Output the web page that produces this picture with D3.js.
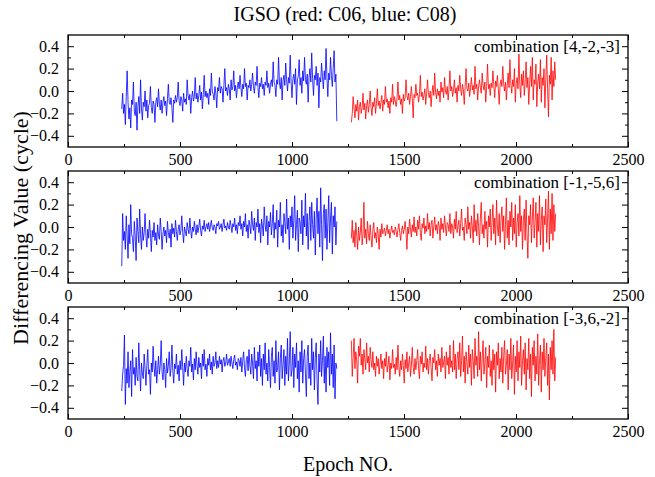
<!DOCTYPE html>
<html>
<head>
<meta charset="utf-8">
<script src="https://cdn.jsdelivr.net/npm/d3@7"></script>
<style>
body{margin:0;background:#fff;}
svg{display:block;}
text{font-family:"Liberation Serif","Times New Roman",serif;fill:#000;}
</style>
</head>
<body>
<svg id="chart" width="655" height="477"></svg>
<script>
const title = "IGSO (red: C06, blue: C08)";
const xLabel = "Epoch NO.";
const yLabel = "Differencing Value (cycle)";
const combinations = ["combination [4,-2,-3]", "combination [-1,-5,6]", "combination [-3,6,-2]"];
const xTicks = [0, 500, 1000, 1500, 2000, 2500];
const yTicks = [-0.4, -0.2, 0.0, 0.2, 0.4];
const xDomain = [0, 2500];
const yDomain = [-0.5, 0.5];
// first epoch of each satellite series and sampling step (epochs)
const blueStart = 240, redStart = 1265, epochStep = 4;

const blue1 = [-.16,-.02,-.2,-.12,-.3,-.05,.18,-.1,-.25,-.15,-.33,-.08,
-.12,.08,-.18,-.22,-.1,-.35,-.14,-.05,-.2,.1,-.16,-.26,
-.1,-.14,.0,-.18,-.08,-.24,-.13,-.11,.04,-.15,-.2,-.09,
-.12,-.28,-.1,-.06,-.14,.02,-.12,-.17,-.08,-.2,-.1,-.05,
-.13,-.09,-.22,-.07,.06,-.1,-.12,-.06,-.15,-.28,-.08,-.11,
-.04,-.1,-.06,.08,-.09,-.13,-.05,-.08,-.18,-.02,-.1,-.07,
-.12,.1,-.04,-.08,-.03,-.2,-.06,.0,-.09,-.05,.12,-.07,
-.02,-.1,-.04,.05,-.08,-.01,-.16,-.03,.14,-.05,.0,-.06,
-.02,-.12,.02,-.04,.16,.0,-.03,-.08,.04,-.02,-.15,.03,
.0,.12,-.02,.04,.02,-.1,.05,.2,.0,.03,-.04,.06,
.02,-.08,.1,.01,.04,.18,.0,.05,-.06,.03,.08,.02,
.14,.03,-.05,.06,.02,.2,.04,.07,-.08,.05,.03,.1,
.0,.06,.16,.04,-.02,.08,.05,.22,.03,-.06,.07,.04,
.12,.02,.06,-.04,.08,.05,.18,.03,.07,-.02,.06,.1,
.04,.26,.08,.05,-.05,.1,.06,.3,.07,.02,.12,-.08,
.09,.14,.05,.25,.1,.0,.12,.07,.32,.08,-.06,.11,
.15,.06,.2,-.12,.1,.13,.28,.05,.12,-.02,.18,.09,
.3,.1,.06,.15,-.1,.12,.2,.08,.34,.11,-.04,.14,
.1,.22,.05,.16,-.15,.12,.08,.25,.13,.02,.18,.1,
.38,.12,-.05,.16,.1,.3,.14,.04,.2,.36,.08,.15,
-.27];

const red1 = [-.28,-.2,-.05,-.16,-.24,-.12,-.18,-.08,-.26,-.14,-.1,-.2,
-.15,-.02,-.17,-.11,-.25,-.13,-.08,-.19,-.12,.0,-.15,-.22,
-.1,-.14,-.06,-.2,-.11,.02,-.13,-.09,-.16,-.1,-.04,-.18,
-.08,-.12,.04,-.1,-.07,-.15,-.09,-.2,-.06,-.1,.06,-.12,
-.05,-.09,-.14,-.06,.08,-.08,-.04,-.12,-.07,-.2,-.03,-.09,
-.06,.1,-.04,-.08,-.02,-.12,-.05,.04,-.07,-.24,-.03,-.06,
.06,-.04,-.02,-.1,-.03,.14,-.05,-.01,-.08,-.04,.02,-.12,
-.02,.1,-.03,-.06,.0,-.14,-.02,.05,-.04,.16,-.01,-.07,
.02,-.04,.0,-.1,.08,-.01,.03,-.06,.12,.0,-.03,.04,
-.08,.02,.18,.0,.04,-.05,.01,.1,-.02,.03,-.1,.05,
.0,.14,.02,-.04,.06,.01,-.12,.04,.2,.02,.0,.07,
-.05,.03,.12,.01,.05,-.03,.22,.02,.06,-.08,.04,.1,
.03,-.02,.16,.05,.01,.08,-.1,.04,.24,.02,.06,-.04,
.07,.03,.18,.05,-.06,.09,.04,.14,.02,-.12,.06,.1,
.04,.22,.06,.0,.08,-.08,.05,.16,.03,.28,.07,-.02,
.1,.04,.2,-.1,.07,.12,.02,.33,.06,-.06,.15,.05,
.18,-.04,.08,.26,.03,.12,-.12,.07,.22,.04,.3,-.08,
.1,.06,.24,-.14,.08,.15,.02,.28,-.1,.12,.05,.2,
-.15,.1,.32,.02,-.23,.14,.06,.3,-.08,.18,.04,.26,
.1];

const blue2 = [-.35,.12,-.12,-.04,-.2,.1,-.08,-.28,.02,-.15,.2,-.06,
-.1,-.22,.05,-.08,-.3,.08,-.04,-.14,.16,-.07,-.2,.0,
-.12,-.05,.12,-.08,-.18,-.02,-.1,.06,-.06,-.22,-.03,-.09,
.04,-.12,-.05,-.16,.02,-.07,-.11,.08,-.04,-.2,-.06,.0,
-.08,-.03,-.14,.05,-.05,-.1,-.02,-.18,.03,-.06,-.01,-.09,
.06,-.04,-.12,-.02,.02,-.07,-.03,.1,-.05,-.14,.0,-.04,
-.08,.04,-.02,-.06,.08,-.03,-.1,.0,-.04,.05,-.02,-.07,
.02,-.05,.0,.07,-.03,-.08,.01,-.02,.06,-.04,.0,.03,
-.02,.04,-.04,.01,.06,-.01,-.03,.02,.0,-.06,.03,.01,
.05,-.02,.0,.03,-.04,.02,.07,-.01,.01,-.03,.04,.0,
-.02,.06,.01,-.05,.03,.0,.08,-.03,.02,-.06,.04,.01,
.1,-.02,.03,-.08,.05,.0,.12,-.04,.02,-.1,.06,.01,
-.06,.14,.02,-.03,.08,-.12,.04,.0,.16,-.05,.03,-.14,
.07,.01,-.08,.18,.02,-.04,.1,-.16,.05,.0,.13,-.07,
.03,.2,-.1,.04,-.02,.15,-.18,.06,.0,.22,-.08,.02,
-.14,.12,.04,-.06,.25,-.02,.08,-.2,.1,.0,.18,-.1,
.06,.28,-.12,.02,.15,-.22,.08,.04,-.06,.24,-.16,.1,
.0,.3,-.08,.12,-.2,.05,.18,-.12,.22,.02,-.1,.14,
-.25,.08,.26,-.06,.14,-.18,.35,.02,-.3,.12,.2,-.1,
.16,-.2,.04,.28,-.14,.08,.22,-.24,.1,.0,.18,-.16,
.05];

const red2 = [-.1,.06,-.14,-.03,-.18,.04,-.08,-.2,.0,-.12,-.05,.08,
-.16,-.07,.22,-.1,-.02,-.15,.05,-.06,-.12,.02,-.09,-.18,
-.03,.04,-.1,-.05,-.14,.0,-.07,-.2,-.02,-.09,.03,-.06,
-.04,-.01,-.08,-.03,.02,-.06,-.02,-.1,-.04,.01,-.05,-.03,
-.07,.0,-.04,-.09,-.02,.03,-.05,-.12,-.03,.01,-.06,-.02,
.05,-.04,-.2,.0,-.06,.07,-.02,-.09,.02,-.04,.09,-.05,
.0,-.08,.06,-.02,.1,-.05,-.12,.03,-.01,.08,-.06,.01,
-.04,.12,-.02,.04,-.08,.02,.06,-.1,.0,.09,-.03,.02,
-.06,.05,.01,-.12,.08,-.02,.03,-.05,.1,.0,-.08,.04,
.02,-.04,.12,-.06,.03,.0,-.1,.07,-.02,.14,-.05,.01,
.06,-.08,.03,.16,-.03,.0,-.12,.08,.02,-.06,.18,-.02,
.04,-.1,.1,.0,-.14,.2,-.04,.06,-.08,.12,.01,-.16,
.08,.22,-.06,.02,-.1,.14,-.02,.05,-.18,.1,.0,.16,
-.12,.04,.2,-.06,.08,-.16,.24,.0,-.08,.12,-.14,.06,
.18,-.04,.1,-.2,.02,.26,-.1,.06,-.16,.14,.0,.22,
-.12,.08,-.06,.2,-.18,.04,.12,-.08,.28,-.04,.1,-.2,
.06,.16,-.12,.24,-.06,-.28,.1,.02,.2,-.14,.08,.26,
-.1,.04,.22,-.18,.12,-.04,.28,-.16,.06,.18,-.22,.1,
.02,.25,-.14,.08,.32,-.2,.16,-.06,.3,-.12,.2,-.04,
.12];

const blue3 = [-.25,-.1,-.02,.25,-.37,-.05,-.18,.1,-.22,-.08,.02,-.3,
.12,-.1,-.04,-.2,.05,-.12,-.16,.18,-.06,-.25,.0,-.09,
-.14,.08,-.05,-.2,-.02,.12,-.1,-.06,-.28,.0,-.08,.15,
-.04,-.12,.02,-.18,-.06,.06,-.1,-.02,.2,-.08,-.15,.0,
-.06,-.22,.04,-.09,-.02,.1,-.12,-.05,.16,-.07,-.18,-.01,
-.05,.08,-.1,-.02,-.16,.02,-.06,.12,-.04,-.2,.0,-.08,
.06,-.05,-.12,.02,-.03,.14,-.08,-.01,-.15,.04,-.06,.1,
-.02,-.1,.05,-.04,.0,-.14,.08,-.03,.12,-.06,-.01,-.12,
.04,-.02,.08,-.06,.01,-.1,.06,-.03,.0,.1,-.05,.02,
-.04,.06,-.01,.03,-.08,.02,.05,-.03,.0,.08,-.02,.01,
.04,-.03,.06,.0,-.05,.03,.07,-.02,.01,-.06,.04,.02,
-.03,.05,-.08,.02,.1,-.04,-.12,.03,.06,-.07,.12,-.02,
-.1,.08,.0,-.14,.14,-.05,.02,-.16,.1,-.03,.16,-.12,
.04,-.2,.08,-.06,.18,-.1,.0,-.16,.12,-.04,-.22,.06,
.14,-.12,.02,-.18,.2,-.08,-.04,.1,-.24,.04,.16,-.14,
-.02,.12,-.2,.06,-.1,.22,-.16,.0,.28,-.12,-.06,.14,
-.22,.08,-.04,.18,-.14,.02,-.26,.1,-.08,.2,-.18,.04,
.12,-.1,-.3,.06,.16,-.14,.0,-.2,.22,-.06,.1,-.24,
.04,.18,-.16,-.37,.08,-.08,.2,-.12,.02,.24,-.18,.06,
-.26,.14,-.04,.1,-.2,.27,-.1,.08,-.22,.16,-.32,.0,
-.05];

const red3 = [.2,-.12,.05,.22,-.05,.1,.02,-.18,.15,.06,.22,-.02,
.08,-.1,.12,.03,-.06,.18,.0,.06,-.08,.14,.02,-.04,
.1,-.06,.0,-.12,.06,-.03,.04,-.1,-.01,.08,-.05,.02,
-.14,.04,-.03,.1,-.08,-.02,.06,-.15,.0,-.05,.12,-.04,
-.01,-.1,.05,-.06,.16,-.03,-.12,.02,-.06,.08,-.02,-.18,
.03,-.05,.1,-.08,.0,.06,-.12,-.02,.14,-.04,-.1,.04,
-.06,.02,.12,-.05,-.14,.06,-.01,.1,-.08,.0,-.04,.15,
-.06,.04,-.1,.02,.08,-.04,-.16,.05,.0,.12,-.06,.02,
-.12,.08,-.02,.04,-.08,.14,-.04,.0,.06,-.14,.1,-.02,
.05,-.1,.16,-.04,.02,-.08,.2,-.06,.08,-.14,.04,.1,
-.06,.18,-.12,.02,.24,-.08,.06,-.18,.1,.0,-.1,.16,
-.04,.08,-.2,.12,.02,-.14,.22,-.02,.06,-.12,.28,-.06,
.1,-.16,.04,.2,-.1,.0,.14,-.22,.06,-.04,.16,-.12,
.02,-.2,.12,-.06,.08,-.26,.1,-.02,.18,-.14,.04,-.08,
.14,-.18,.06,.2,-.1,-.02,.12,-.24,.08,-.06,.22,-.14,
.0,.16,-.28,.06,-.08,.2,-.16,.1,-.04,.24,-.2,.02,
.12,-.1,.18,-.24,.04,-.06,.22,-.14,.08,-.3,.14,-.02,
.2,-.16,.06,-.1,.26,-.2,.02,.16,-.26,.1,-.06,.22,
-.12,.04,.18,-.2,.08,-.33,.14,-.06,.2,-.1,.3,-.16,
.05];

const panels = [
  {label: combinations[0], blue: blue1, red: red1},
  {label: combinations[1], blue: blue2, red: red2},
  {label: combinations[2], blue: blue3, red: red3}
];

const svg = d3.select("#chart");
const left = 68, right = 628, ph = 112;
const tops = [35, 171, 307];
const FONT = "Liberation Serif, Times New Roman, serif";

const x = d3.scaleLinear().domain(xDomain).range([left, right]);

svg.append("text").attr("x", 345).attr("y", 21).attr("text-anchor", "middle")
  .attr("font-family", FONT).attr("font-size", 20).text(title);

panels.forEach((p, k) => {
  const top = tops[k], bottom = top + ph;
  const y = d3.scaleLinear().domain(yDomain).range([bottom, top]);
  const g = svg.append("g");

  const line = d3.line().x(d => x(d[0])).y(d => y(d[1]));
  const bData = p.blue.map((v, i) => [blueStart + i * epochStep, v]);
  const rData = p.red.map((v, i) => [redStart + i * epochStep, v]);
  g.append("path").datum(bData).attr("d", line).attr("fill", "none")
    .attr("stroke", "#0000ff").attr("stroke-width", 1).attr("stroke-opacity", 0.8)
    .attr("stroke-linejoin", "round");
  g.append("path").datum(rData).attr("d", line).attr("fill", "none")
    .attr("stroke", "#ff0000").attr("stroke-width", 1).attr("stroke-opacity", 0.8)
    .attr("stroke-linejoin", "round");

  const minorX = d3.range(250, 2500, 500);
  const minorY = [-0.3, -0.1, 0.1, 0.3];
  g.append("g").attr("transform", `translate(0,${bottom})`)
    .call(d3.axisBottom(x).tickValues(xTicks).tickSize(-5).tickPadding(7).tickFormat(d3.format("d")));
  g.append("g").attr("transform", `translate(0,${bottom})`)
    .call(d3.axisBottom(x).tickValues(minorX).tickSize(-3).tickFormat(""));
  g.append("g").attr("transform", `translate(0,${top})`)
    .call(d3.axisTop(x).tickValues(xTicks).tickSize(-5).tickFormat(""));
  g.append("g").attr("transform", `translate(0,${top})`)
    .call(d3.axisTop(x).tickValues(minorX).tickSize(-3).tickFormat(""));
  g.append("g").attr("transform", `translate(${left},0)`)
    .call(d3.axisLeft(y).tickValues(yTicks).tickSize(-6).tickPadding(9).tickFormat(d3.format(".1f")));
  g.append("g").attr("transform", `translate(${left},0)`)
    .call(d3.axisLeft(y).tickValues(minorY).tickSize(-3).tickFormat(""));
  g.append("g").attr("transform", `translate(${right},0)`)
    .call(d3.axisRight(y).tickValues(yTicks).tickSize(-6).tickFormat(""));
  g.append("g").attr("transform", `translate(${right},0)`)
    .call(d3.axisRight(y).tickValues(minorY).tickSize(-3).tickFormat(""));
  g.selectAll(".domain").remove();
  g.selectAll(".tick line").attr("stroke", "#000").attr("stroke-width", 1);
  g.selectAll(".tick text").attr("font-family", FONT).attr("font-size", 16).attr("fill", "#000");

  g.append("rect").attr("x", left).attr("y", top).attr("width", right - left).attr("height", ph)
    .attr("fill", "none").attr("stroke", "#000").attr("stroke-width", 1.3);

  g.append("text").attr("x", right - 8).attr("y", top + 17).attr("text-anchor", "end")
    .attr("font-family", FONT).attr("font-size", 17).text(p.label);
});

svg.append("text").attr("x", 348).attr("y", 471).attr("text-anchor", "middle")
  .attr("font-family", FONT).attr("font-size", 20).text(xLabel);
svg.append("text").attr("transform", "translate(28,228) rotate(-90)").attr("text-anchor", "middle")
  .attr("font-family", FONT).attr("font-size", 22).text(yLabel);
</script>
</body>
</html>
